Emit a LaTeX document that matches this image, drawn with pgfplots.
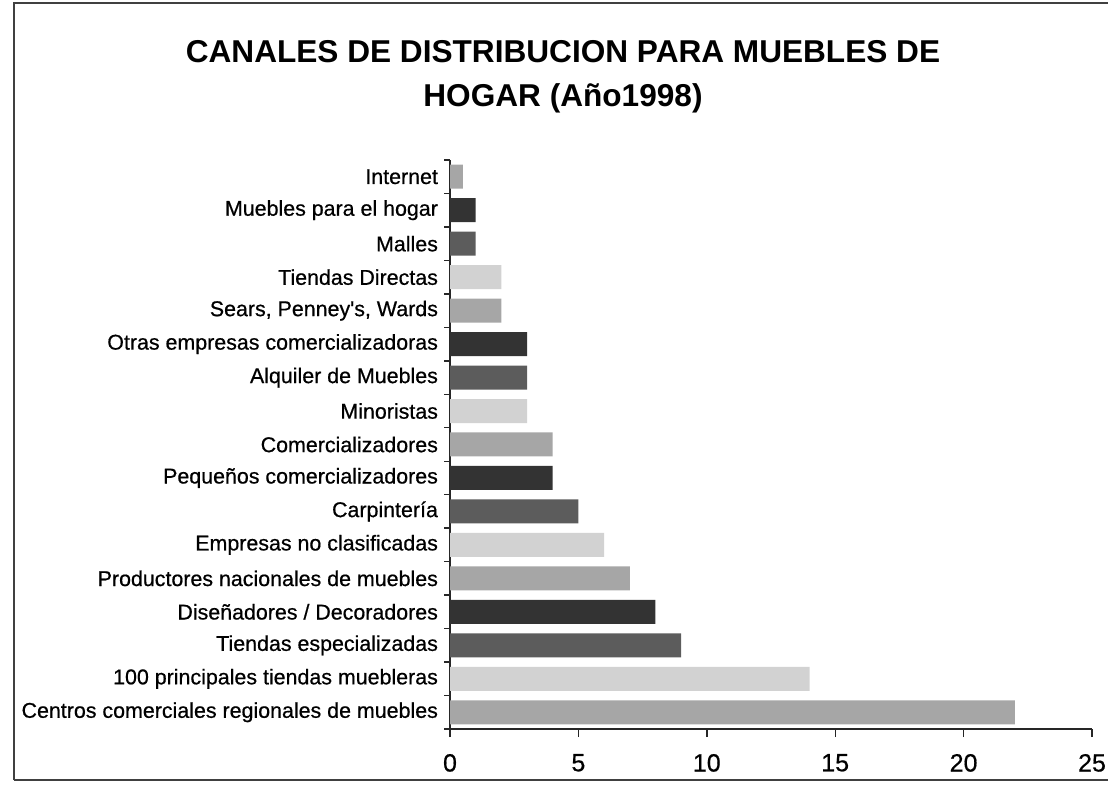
\documentclass[border=0pt]{standalone}
\usepackage{fontspec}
\setmainfont{Liberation Sans}
\newfontfamily\labelfont[FakeBold=0.6]{Liberation Sans}
\usepackage{pgfplots}
\pgfplotsset{compat=1.18}
\definecolor{cmed}{HTML}{A6A6A6}
\definecolor{clight}{HTML}{D2D2D2}
\definecolor{cdm}{HTML}{5C5C5C}
\definecolor{cdark}{HTML}{333333}
\begin{document}
\begin{tikzpicture}
\useasboundingbox (0,0) rectangle (554pt,393.5pt);
\draw[line width=0.6pt, black!75] (7pt,3.5pt) -- (7pt,392pt) -- (554pt,392pt);
\draw[line width=0.6pt, black!75] (7pt,3.5pt) -- (554pt,3.5pt);
\node[anchor=base, font=\fontsize{15.8}{18}\selectfont\bfseries] at (281.5pt,362pt) {CANALES DE DISTRIBUCION PARA MUEBLES DE};
\node[anchor=base, font=\fontsize{15.8}{18}\selectfont\bfseries] at (281.5pt,340pt) {HOGAR (Año1998)};
\begin{axis}[
  at={(225pt,29pt)}, anchor=south west,
  width=321pt, height=284.5pt, scale only axis,
  xbar, bar width=12pt, bar shift=0pt,
  xmin=0, xmax=25, ymin=-0.5, ymax=16.5,
  axis x line*=bottom, axis y line*=left,
  axis line style={line width=0.7pt, black!85},
  xtick={0,5,10,15,20,25},
  ytick={0,...,16},
  minor ytick={-0.5,0.5,...,16.5},
  yticklabels={Centros comerciales regionales de muebles,100 principales tiendas muebleras,Tiendas especializadas,Diseñadores / Decoradores,Productores nacionales de muebles,Empresas no clasificadas,Carpintería,Pequeños comercializadores,Comercializadores,Minoristas,Alquiler de Muebles,Otras empresas comercializadoras,{Sears, Penney's, Wards},Tiendas Directas,Malles,Muebles para el hogar,Internet},
  tick align=outside,
  major tick length=4pt, minor tick length=3pt,
  major y tick style={draw=none},
  every tick/.style={line width=0.7pt, black!85},
  /pgf/number format/assume math mode=true,
  xticklabel style={font=\labelfont\fontsize{12.5}{14}\selectfont, yshift=-5pt},
  yticklabel style={font=\labelfont\fontsize{10.7}{12}\selectfont, xshift=1.5pt},
  clip=false,
]
\addplot[fill=cmed, draw=none] coordinates {(22,0) (7,4) (4,8) (2,12) (0.5,16)};
\addplot[fill=clight, draw=none] coordinates {(14,1) (6,5) (3,9) (2,13)};
\addplot[fill=cdm, draw=none] coordinates {(9,2) (5,6) (3,10) (1,14)};
\addplot[fill=cdark, draw=none] coordinates {(8,3) (4,7) (3,11) (1,15)};
\end{axis}
\end{tikzpicture}
\end{document}
